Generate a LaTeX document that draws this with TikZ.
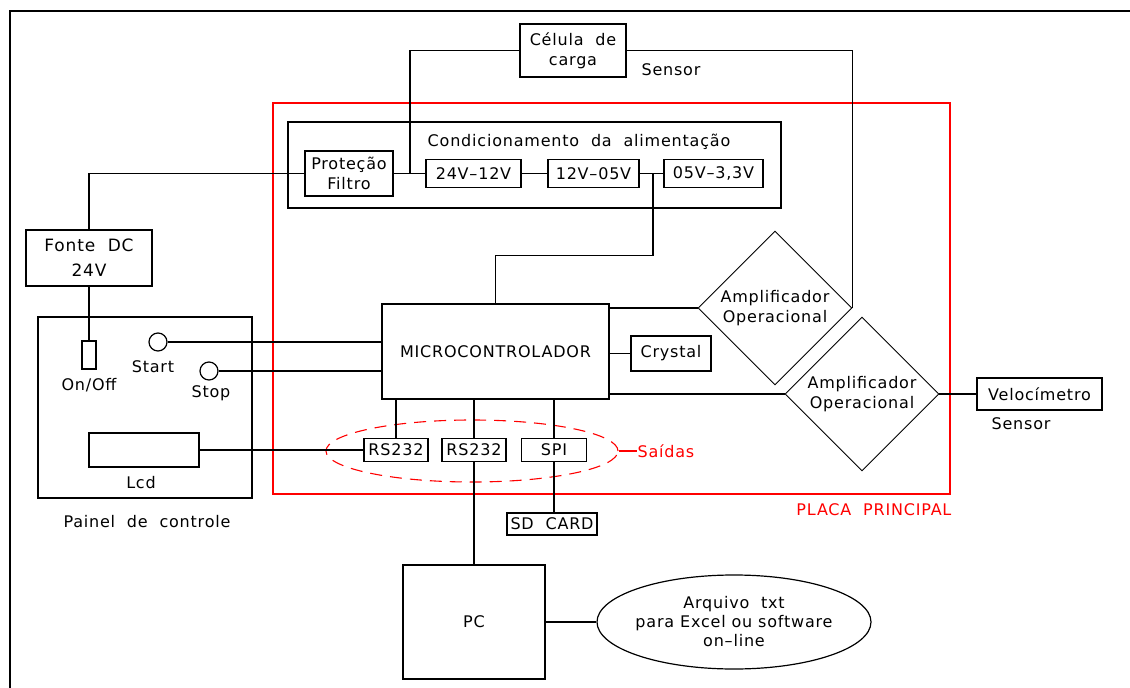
\documentclass[tikz,border=0pt]{standalone}
\usepackage{fontspec}
\setmainfont{DejaVu Sans}[LetterSpace=5]
\usetikzlibrary{shapes.geometric}
\begin{document}
\begin{tikzpicture}[x=1pt,y=-1pt,line width=1.2pt,
  font=\fontsize{16}{20}\selectfont,
  box/.style={draw,rectangle,inner sep=0pt,align=center,minimum width=#1},
  box/.default=60pt,
  lbl/.style={inner sep=0pt,align=center},
  amp/.style={draw,diamond,inner sep=0pt,align=center,minimum width=154pt,minimum height=154pt,line width=0.9pt},
  sw/.style={draw,circle,inner sep=0pt,minimum size=18pt}]
\useasboundingbox (0,0) rectangle (1130,688);
% outer frame
\draw[line width=1.4pt] (10,688) -- (10,11) -- (1130,11);
% main board
\draw[red,line width=1.3pt] (273,103) rectangle (950,494);
\node[lbl,red,anchor=east] (placa) at (952,510) {PLACA\ \ PRINCIPAL};
% conditioning
\draw (288,122) rectangle (781,208);
\node[lbl] (condt) at (579,142) {Condicionamento\ \ da\ \ alimentação};
\node[box=88pt,minimum height=45pt] (prot) at (349,173.5) {Proteção\\Filtro};
\node[box=95pt,minimum height=28pt] (b1) at (473.5,173.5) {24V–12V};
\node[box=91pt,minimum height=28pt] (b2) at (593.5,173.5) {12V–05V};
\node[box=99pt,minimum height=28pt] (b3) at (713.5,173.5) {05V–3,3V};
% load cell
\node[box=106pt,minimum height=53pt] (cel) at (573,50.5) {Célula\ \ de\\carga};
\node[lbl] (sens1) at (671,70) {Sensor};
% power supply
\node[box=126pt,minimum height=56pt,font=\fontsize{17}{25}\selectfont] (fonte) at (89,258) {Fonte\ \ DC\\24V};
% panel
\draw (38,317) rectangle (252,498);
\node[lbl] (painel) at (147,522) {Painel\ \ de\ \ controle};
\node[box=14pt,minimum height=28pt] (onoff) at (89,355) {};
\node[lbl] (onofft) at (89,385) {On/Off};
\node[sw] (start) at (158,342) {};
\node[lbl] (startt) at (153,367) {Start};
\node[sw] (stop) at (209,371) {};
\node[lbl] (stopt) at (211,393) {Stop};
\node[box=110pt,minimum height=34pt] (lcd) at (144,450) {};
\node[lbl] (lcdt) at (141,483) {Lcd};
% microcontroller
\node[box=227pt,minimum height=95pt] (mcu) at (495.5,351.5) {MICROCONTROLADOR};
\node[box=80pt,minimum height=35pt] (cry) at (671,353.5) {Crystal};
\node[amp] (amp1) at (775,308) {Amplificador\\Operacional};
\node[amp] (amp2) at (862,394) {Amplificador\\Operacional};
\node[box=125pt,minimum height=32pt] (velo) at (1039.5,394) {Velocímetro};
\node[lbl] (sens2) at (1021,424) {Sensor};
% outputs
\node[draw,red,ellipse,dash pattern=on 12pt off 8pt,minimum width=292pt,minimum height=62pt,line width=1.1pt] (ell) at (472,451) {};
\node[box=64pt,minimum height=23pt] (rs1) at (396,450) {RS232};
\node[box=64pt,minimum height=23pt] (rs2) at (474,450) {RS232};
\node[box=65pt,minimum height=23pt] (spi) at (554,450) {SPI};
\node[lbl,red,anchor=west] (saidas) at (637,451) {Saídas};
\node[box=90pt,minimum height=22pt] (sd) at (552,524) {SD\ \ CARD};
% PC
\node[box=142pt,minimum height=114pt] (pc) at (474,622) {PC};
\node[draw,ellipse,inner sep=0pt,minimum width=274pt,minimum height=94pt] (arq) at (734,622) {};
\node[lbl,font=\fontsize{16}{19}\selectfont] (arqt) at (arq.center) {Arquivo\ \ txt\\para\ Excel\ ou\ software\\on–line};
% connectors
\coordinate (j1) at (410,173.5);
\coordinate (j2) at (653,173.5);
\draw (fonte.north) |- (prot.west);
\draw (prot.east) -- (b1.west);
\draw (cel.west) -| (j1);
\draw (cel.east) -| (amp1.east);
\draw (b1.east) -- (b2.west);
\draw (b2.east) -- (b3.west);
\draw (j2) -- ++(0,82) -| (mcu.north);
\draw (fonte.south) -- (onoff.north);
\draw (start.east) -- (start.east -| mcu.west);
\draw (stop.east) -- (stop.east -| mcu.west);
\draw (lcd.east) -- (rs1.west);
\draw (mcu.east |- amp1.west) -- (amp1.west);
\draw (mcu.east |- cry.west) -- (cry.west);
\draw (mcu.east |- amp2.west) -- (amp2.west);
\draw (amp2.east) -- (velo.west);
\draw (rs1.north |- mcu.south) -- (rs1.north);
\draw (rs2.north |- mcu.south) -- (rs2.north);
\draw (spi.north |- mcu.south) -- (spi.north);
\draw (rs2.south) -- (pc.north);
\draw (spi.south) -- (spi.south |- sd.north);
\draw (pc.east) -- (arq.west);
\draw[red] (ell.east) -- (saidas.west);
\end{tikzpicture}
\end{document}
